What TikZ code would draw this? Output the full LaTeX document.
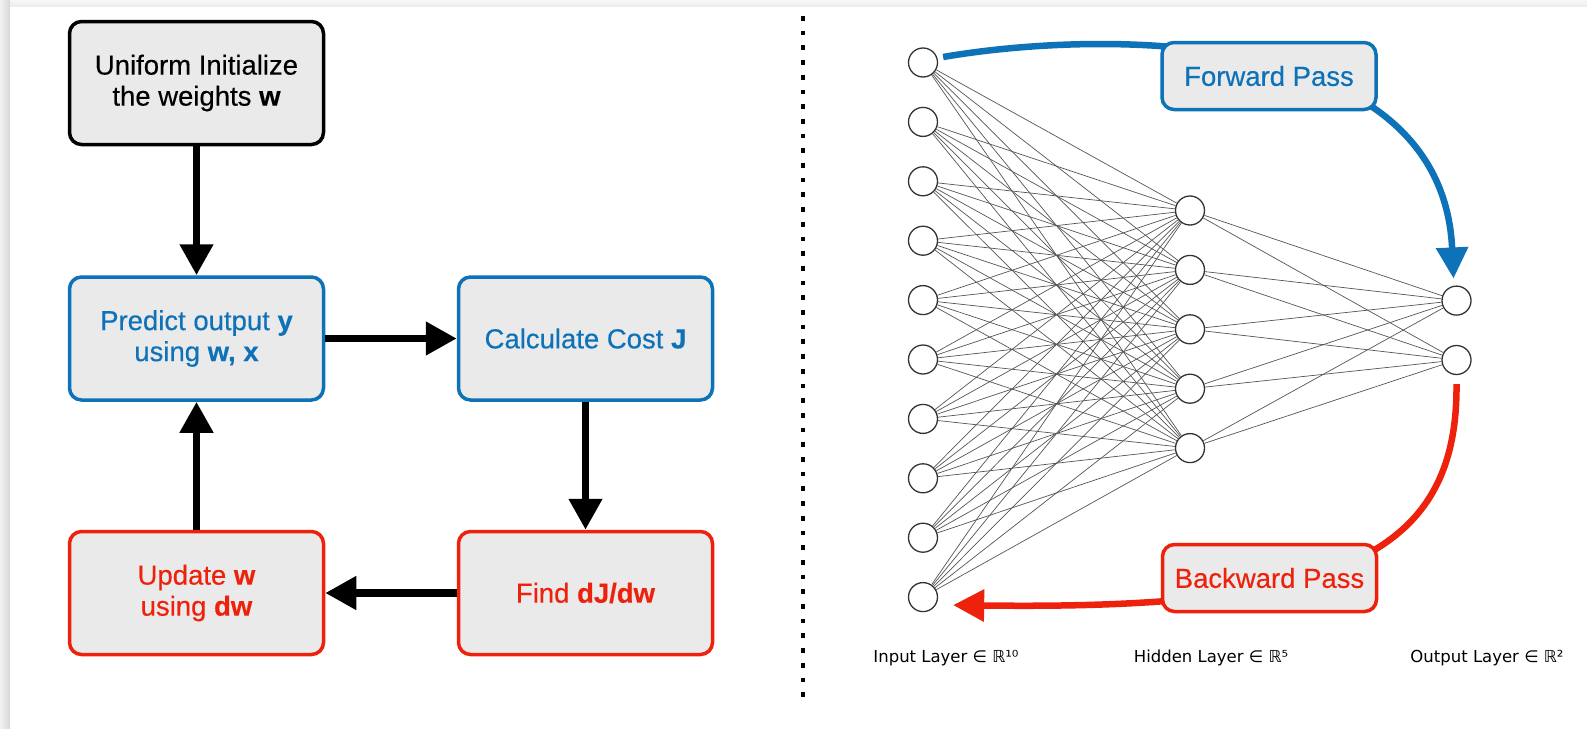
\documentclass[tikz,border=0pt]{standalone}
\usepackage{fontspec}
\setmainfont{Liberation Sans}
\newfontfamily\boxfont{Liberation Sans}[FakeBold=0.35]
\newfontfamily\labelfont{DejaVu Sans}
\usetikzlibrary{arrows.meta}

\definecolor{kblue}{HTML}{0D72B8}
\definecolor{kred}{HTML}{EE220C}
\definecolor{boxgray}{HTML}{EAEAEA}
\definecolor{edgegray}{HTML}{555555}
\definecolor{ringgray}{HTML}{333333}

\begin{document}
\begin{tikzpicture}[x=1pt,y=-1pt,
  stepbox/.style={draw, line width=3.5pt, rounded corners=12pt, fill=boxgray,
    minimum width=254pt, minimum height=123pt, align=center, inner sep=0pt,
    font=\boxfont\fontsize{27.5}{31}\selectfont},
  passbox/.style={stepbox, minimum width=214pt, minimum height=67pt},
  flowarrow/.style={line width=7.5pt, -{Triangle[length=31pt,width=32pt]}},
  passarrow/.style={line width=6.5pt, -{Triangle[length=31pt,width=31pt]}},
  neuron/.style={circle, draw=ringgray, line width=1.3pt, fill=white,
    minimum size=29pt, inner sep=0pt},
  synapse/.style={draw=edgegray, line width=0.7pt},
  layerlabel/.style={font=\labelfont\fontsize{16.5}{20}\selectfont, text=black}
]
\useasboundingbox (0,0) rectangle (1587,728);

% window frame with soft shadow on the top and left edges
\fill[gray!8] (0,0) rectangle (1587,728);
\shade[top color=gray!6, bottom color=gray!16] (0,0) rectangle (1587,7);
\shade[left color=gray!10, right color=gray!32] (0,0) rectangle (10,728);
\fill[white] (10,7) rectangle (1587,728);

% ---------------- training loop ----------------
\node[stepbox, draw=black, text=black] (init) at (196.5,83)
  {Uniform Initialize\\the weights \textbf{w}};
\node[stepbox, draw=kblue, text=kblue] (predict) at (196.5,338.5)
  {Predict output \textbf{y}\\using \textbf{w, x}};
\node[stepbox, draw=kblue, text=kblue] (cost) at (585.5,338.5)
  {Calculate Cost \textbf{J}};
\node[stepbox, draw=kred, text=kred] (update) at (196.5,593)
  {Update \textbf{w}\\using \textbf{dw}};
\node[stepbox, draw=kred, text=kred] (grad) at (585.5,593)
  {Find \textbf{dJ/dw}};

\draw[flowarrow] (init) -- (predict);
\draw[flowarrow] (predict) -- (cost);
\draw[flowarrow] (cost) -- (grad);
\draw[flowarrow] (grad) -- (update);
\draw[flowarrow] (update) -- (predict);

% divider
\draw[line width=4.7pt, dash pattern=on 4.7pt off 10pt] (803,16) -- (803,706);

% ---------------- network ----------------
\foreach \i in {1,...,10}
  \node[neuron] (a\i) at (923,{62.5+(\i-1)*59.4}) {};
\foreach \j in {1,...,5}
  \node[neuron] (h\j) at (1190,{210.5+(\j-1)*59.4}) {};
\foreach \k in {1,2}
  \node[neuron] (o\k) at (1456.5,{300.6+(\k-1)*59.4}) {};

\foreach \i in {1,...,10}
  \foreach \j in {1,...,5}
    \draw[synapse] (a\i) -- (h\j);
\foreach \j in {1,...,5}
  \foreach \k in {1,2}
    \draw[synapse] (h\j) -- (o\k);

% forward / backward passes, running behind their labels
\draw[passarrow, draw=kblue]
  ([xshift=5pt,yshift=5.5pt]a1.east)
  .. controls (1100,30) and (1442,25) .. ([xshift=-3pt,yshift=7pt]o1.north);
\draw[passarrow, draw=kred]
  ([yshift=-9pt]o2.south)
  .. controls (1458,560) and (1330,610) .. ([xshift=15pt,yshift=-8pt]a10.east);

\node[passbox, draw=kblue, text=kblue] (fwd) at (1269,76) {Forward Pass};
\node[passbox, draw=kred, text=kred] (bwd) at (1269.5,578) {Backward Pass};

% layer captions
\node[layerlabel] (lin) at (946,658) {Input Layer ∈ ℝ¹⁰};
\node[layerlabel] (lhid) at (1211,658) {Hidden Layer ∈ ℝ⁵};
\node[layerlabel] (lout) at (1487,658) {Output Layer ∈ ℝ²};
\end{tikzpicture}
\end{document}
